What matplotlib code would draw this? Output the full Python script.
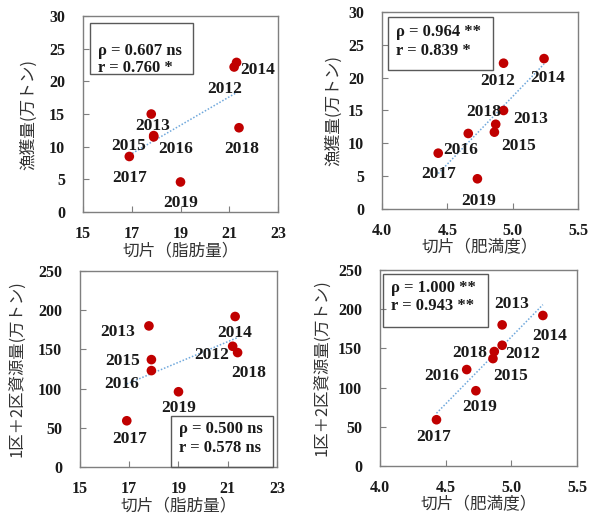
import numpy as np
import matplotlib
matplotlib.use("Agg")
import matplotlib.pyplot as plt
from matplotlib.patches import Rectangle

# ---- data ----
years = ["2012", "2013", "2014", "2015", "2016", "2017", "2018", "2019"]
fat = [21.2, 17.8, 21.3, 17.9, 17.9, 16.9, 21.4, 19.0]          # 切片(脂肪量)
condition = [4.93, 4.93, 5.24, 4.86, 4.66, 4.43, 4.87, 4.73]     # 切片(肥満度)
catch = [22.2, 15.0, 22.9, 11.7, 11.5, 8.5, 12.9, 4.6]           # 漁獲量(万トン)
biomass = [154, 180, 192, 137, 123, 59, 146, 96]                 # 1区+2区資源量(万トン)

stats_tl = ["ρ = 0.607 ns", "r = 0.760 *"]
stats_tr = ["ρ = 0.964 **", "r = 0.839 *"]
stats_bl = ["ρ = 0.500 ns", "r = 0.578 ns"]
stats_br = ["ρ = 1.000 **", "r = 0.943 **"]

xticks_fat = [15, 17, 19, 21, 23]
xticks_cond = [4.0, 4.5, 5.0, 5.5]
yticks_catch = [0, 5, 10, 15, 20, 25, 30]
yticks_bio = [0, 50, 100, 150, 200, 250]

xlabel_fat = "切片（脂肪量）"
xlabel_cond = "切片（肥満度）"
ylabel_catch = "漁獲量(万トン)"
ylabel_bio = "1区＋2区資源量(万トン)"

# ---- layout / style ----
SERIF = "Liberation Serif"
JP = ["Noto Sans CJK JP", "DejaVu Sans"]
RED = "#C00000"
FRAME = "#7f7f7f"
LINEC = "#6FA8DC"

# label offsets (pixels, dx right, dy down) per year for each panel
off_tl = {"2012": (-9, 22), "2013": (1, 12), "2014": (21, 8), "2015": (-25, 10),
          "2016": (22, 12), "2017": (0, 22), "2018": (3, 21), "2019": (0, 21)}
off_tr = {"2012": (-6, 18), "2013": (27, 9), "2014": (4, 19), "2015": (24, 14),
          "2016": (-8, 17), "2017": (0, 21), "2018": (-12, -12), "2019": (1, 22)}
off_bl = {"2012": (-21, 9), "2013": (-31, 6), "2014": (0, 16), "2015": (-29, 1),
          "2016": (-30, 13), "2017": (3, 18), "2018": (11, 20), "2019": (0, 16)}
off_br = {"2012": (21, 9), "2013": (10, -21), "2014": (7, 21), "2015": (18, 17),
          "2016": (-25, 6), "2017": (-3, 17), "2018": (-25, 1), "2019": (4, 16)}

fig = plt.figure(figsize=(5.92, 5.14), dpi=100)


def panel(rect, x, y, xlim, ylim, xticks, yticks, xfmt, xlabel, ylabel,
          offs, stats, box, text_y, ylabel_x, ylabel_size):
    ax = fig.add_axes(rect)
    ax.scatter(x, y, s=48, color=RED, zorder=3, edgecolors="none")
    # linear trend
    k, b = np.polyfit(x, y, 1)
    xs = np.array([min(x), max(x)])
    ax.plot(xs, k * xs + b, linestyle=(0, (1, 1.2)), color=LINEC, lw=1.1, zorder=2)
    for xi, yi, yr in zip(x, y, years):
        dx, dy = offs[yr]
        ax.annotate(yr, (xi, yi), xytext=(dx, -dy), textcoords="offset pixels",
                    ha="center", va="center", fontsize=12.5, fontweight="bold",
                    family=SERIF, color="#1a1a1a", zorder=4)
    ax.set_xlim(*xlim)
    ax.set_ylim(*ylim)
    ax.set_xticks(xticks)
    ax.set_yticks(yticks)
    ax.set_xticklabels([xfmt.format(t) for t in xticks])
    for lab in ax.get_xticklabels() + ax.get_yticklabels():
        lab.set_family(SERIF)
        lab.set_fontweight("bold")
        lab.set_fontsize(11.5)
        lab.set_color("#1a1a1a")
    ax.tick_params(axis="both", direction="in", length=4, color=FRAME, width=0.8)
    ax.tick_params(axis="y", pad=13)
    ax.tick_params(axis="x", pad=10)
    for sp in ax.spines.values():
        sp.set_color(FRAME)
        sp.set_linewidth(1.0)
    ax.set_xlabel(xlabel, family=JP, fontsize=12, color="#333333", labelpad=0)
    ax.set_ylabel(ylabel, family=JP, fontsize=ylabel_size, color="#333333")
    ax.yaxis.set_label_coords(ylabel_x, 0.5)
    x0, y0, x1, y1 = box
    ax.add_patch(Rectangle((x0, y0), x1 - x0, y1 - y0, transform=ax.transAxes,
                           fill=False, edgecolor="#595959", lw=1.0, zorder=5,
                           clip_on=False))
    for s, ty in zip(stats, text_y):
        ax.text(x0 + 0.04, ty, s, transform=ax.transAxes, ha="left", va="center",
                family=SERIF, fontweight="bold", fontsize=12, color="#1a1a1a",
                zorder=6)
    return ax


panel([0.1402, 0.5875, 0.3294, 0.3813], fat, catch, (15, 23), (0, 30),
      xticks_fat, yticks_catch, "{:g}", xlabel_fat, ylabel_catch, off_tl,
      stats_tl, (0.036, 0.704, 0.564, 0.964), (0.82, 0.735), -0.236, 12)
panel([0.6453, 0.5934, 0.3311, 0.3833], condition, catch, (4.0, 5.5), (0, 30),
      xticks_cond, yticks_catch, "{:.1f}", xlabel_cond, ylabel_catch, off_tr,
      stats_tr, (0.031, 0.706, 0.566, 0.975), (0.90, 0.80), -0.204, 12)
panel([0.1351, 0.0914, 0.3328, 0.3813], fat, biomass, (15, 23), (0, 250),
      xticks_fat, yticks_bio, "{:g}", xlabel_fat, ylabel_bio, off_bl,
      stats_bl, (0.462, 0.0, 0.980, 0.260), (0.195, 0.098), -0.279, 11.8)
panel([0.6419, 0.0934, 0.3328, 0.3813], condition, biomass, (4.0, 5.5), (0, 250),
      xticks_cond, yticks_bio, "{:.1f}", xlabel_cond, ylabel_bio, off_br,
      stats_br, (0.015, 0.709, 0.548, 0.980), (0.91, 0.815), -0.254, 11.8)

fig.savefig("out.png", dpi=100)
